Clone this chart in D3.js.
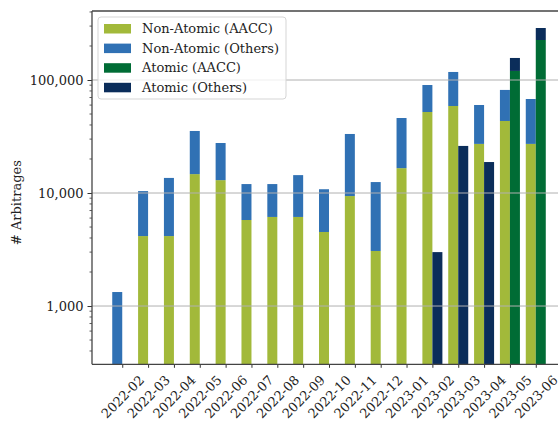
<!DOCTYPE html>
<html>
<head>
<meta charset="utf-8">
<script src="https://cdn.jsdelivr.net/npm/d3@7"></script>
<style>
  body { margin: 0; background: #fff; }
  svg { font-family: "DejaVu Serif", serif; }
</style>
</head>
<body>
<svg id="plot"></svg>
<script>
// data
const months = ["2022-02", "2022-03", "2022-04", "2022-05", "2022-06", "2022-07", "2022-08", "2022-09",
  "2022-10", "2022-11", "2022-12", "2023-01", "2023-02", "2023-03", "2023-04", "2023-05", "2023-06"];
const nonAtomicAACC = [0, 4160, 4160, 14700, 13000, 5770, 6140, 6140, 4520, 9400, 3070, 16600, 52100, 58900, 27200, 43400, 27200];
const nonAtomicOthers = [1330, 6240, 9440, 20700, 14700, 6230, 5860, 8260, 6280, 23900, 9430, 29500, 38200, 58900, 32900, 38300, 40700];
const atomicAACC = [0, 0, 0, 0, 0, 0, 0, 0, 0, 0, 0, 0, 0, 0, 0, 120300, 226000];
const atomicOthers = [0, 0, 0, 0, 0, 0, 0, 0, 0, 0, 0, 0, 3000, 26100, 18800, 36400, 62500];
const yTicks = [1000, 10000, 100000];
const seriesNames = ["Non-Atomic (AACC)", "Non-Atomic (Others)", "Atomic (AACC)", "Atomic (Others)"];
const colors = ["#a2b93a", "#3071b4", "#006c35", "#0b2d5a"];

const margin = { top: 11, right: 0, bottom: 56.7, left: 92 },
  width = 558 - margin.left - margin.right,
  height = 421 - margin.top - margin.bottom;

const svg = d3.select("#plot")
    .attr("width", 558)
    .attr("height", 421)
  .append("g")
    .attr("transform", "translate(" + margin.left + "," + margin.top + ")");

// x is month index, y is log count
const x = d3.scaleLinear().domain([-1.17, 16.86]).range([0, width]);
const y = d3.scaleLog().domain([305, 408000]).range([height, 0]);
const barW = 10;

// stacked pieces: [lower, upper] per series
function pieces(bottomVals, topVals) {
  return months.map((m, i) => {
    const b = bottomVals[i], t = topVals[i];
    const base = y.domain()[0];
    return {
      i: i,
      lower: b > 0 ? [base, b] : null,
      upper: t > 0 ? [b > 0 ? b : base, (b > 0 ? b : 0) + t] : null
    };
  });
}
const nonAtomic = pieces(nonAtomicAACC, nonAtomicOthers);
const atomic = pieces(atomicAACC, atomicOthers);

function drawBars(list, key, color, offset) {
  svg.append("g")
    .selectAll("rect")
    .data(list.filter(d => d[key]))
    .join("rect")
      .attr("x", d => x(d.i) + offset)
      .attr("width", barW)
      .attr("y", d => y(d[key][1]))
      .attr("height", d => y(d[key][0]) - y(d[key][1]))
      .attr("fill", color);
}
drawBars(nonAtomic, "lower", colors[0], -barW);
drawBars(nonAtomic, "upper", colors[1], -barW);
drawBars(atomic, "lower", colors[2], 0);
drawBars(atomic, "upper", colors[3], 0);

// grid lines (over bars, like matplotlib)
svg.append("g")
  .selectAll("line")
  .data(yTicks)
  .join("line")
    .attr("x1", 0).attr("x2", width)
    .attr("y1", d => y(d)).attr("y2", d => y(d))
    .attr("stroke", "#b0b0b0")
    .attr("stroke-width", 1);

// y axis
const yAxis = svg.append("g")
  .call(d3.axisLeft(y)
    .tickValues(yTicks)
    .tickFormat(d3.format(","))
    .tickSize(4.5)
    .tickPadding(4));
yAxis.select(".domain").remove();
yAxis.selectAll("text").attr("font-size", 13).attr("fill", "#222").attr("font-family", "DejaVu Serif");
yAxis.selectAll("line").attr("stroke", "#333");

// minor ticks
const minor = [];
for (let dec = 100; dec <= 100000; dec *= 10) {
  for (let k = 2; k <= 9; k++) {
    const v = dec * k;
    if (v > y.domain()[0] && v < y.domain()[1]) minor.push(v);
  }
}
svg.append("g")
  .selectAll("line")
  .data(minor)
  .join("line")
    .attr("x1", -2.5).attr("x2", 0)
    .attr("y1", d => y(d)).attr("y2", d => y(d))
    .attr("stroke", "#333")
    .attr("stroke-width", 0.8);

// x axis
const xAxis = svg.append("g")
  .attr("transform", "translate(0," + height + ")")
  .call(d3.axisBottom(x)
    .tickValues(d3.range(months.length))
    .tickFormat(i => months[i])
    .tickSize(3.5));
xAxis.select(".domain").remove();
xAxis.selectAll("line").attr("stroke", "#333");
xAxis.selectAll("text")
    .attr("font-size", 13)
    .attr("fill", "#222")
    .attr("font-family", "DejaVu Serif")
    .attr("text-anchor", "middle")
    .attr("dy", null)
    .attr("dominant-baseline", "central")
    .attr("y", 32.5)
    .attr("transform", "rotate(-45,0,32.5)");

// spines
svg.append("line").attr("x1", 0).attr("x2", 0).attr("y1", 0).attr("y2", height)
  .attr("stroke", "#444").attr("stroke-width", 1.3);
svg.append("line").attr("x1", 0).attr("x2", width).attr("y1", height).attr("y2", height)
  .attr("stroke", "#444").attr("stroke-width", 1.3);
svg.append("line").attr("x1", 0).attr("x2", width).attr("y1", 0).attr("y2", 0)
  .attr("stroke", "#444").attr("stroke-width", 1.3);

// y label
svg.append("text")
  .attr("transform", "translate(" + (-76) + "," + (height / 2 + 15) + ") rotate(-90)")
  .attr("text-anchor", "middle")
  .attr("dominant-baseline", "central")
  .attr("font-size", 13)
  .attr("fill", "#222")
  .text("# Arbitrages");

// legend
const legend = svg.append("g").attr("transform", "translate(6,6)");
legend.append("rect")
  .attr("width", 188).attr("height", 82)
  .attr("rx", 3)
  .attr("fill", "#fff").attr("fill-opacity", 0.8)
  .attr("stroke", "#d5d5d5");
const rows = legend.selectAll("g.row")
  .data(seriesNames)
  .join("g")
    .attr("class", "row")
    .attr("transform", (d, i) => "translate(0," + (11.7 + i * 19.6) + ")");
rows.append("rect")
  .attr("x", 6).attr("y", -4.7)
  .attr("width", 27).attr("height", 9.5)
  .attr("fill", (d, i) => colors[i]);
rows.append("text")
  .attr("x", 44)
  .attr("dominant-baseline", "central")
  .attr("font-size", 13)
  .attr("fill", "#222")
  .text(d => d);
</script>
</body>
</html>
